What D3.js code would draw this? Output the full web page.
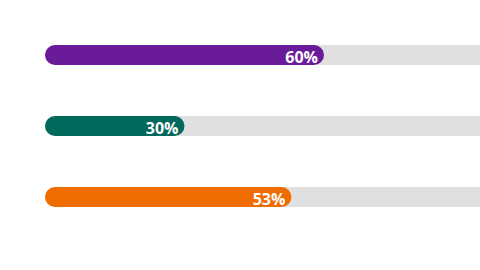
<!DOCTYPE html>
<html><head><meta charset="utf-8">
<script src="https://cdn.jsdelivr.net/npm/d3@7"></script>
<style>html,body{margin:0;padding:0;background:#fff;overflow:hidden}</style>
</head><body>
<svg id="c" width="480" height="270"></svg>
<script>
const categories = ["A", "B", "C"];
const values = [60, 30, 53];
const colors = ["#6a1b9a", "#00695c", "#ef6c00"];
const labels = ["60%", "30%", "53%"];

const svg = d3.select("#c");
const x = d3.scaleLinear().domain([0, 100]).range([45, 510]);
const y = d3.scalePoint().domain(categories).range([55, 197]);
const h = 20;

const g = svg.selectAll("g.bar").data(categories).join("g").attr("class", "bar");
g.append("rect")
  .attr("x", x(0)).attr("y", d => y(d) - h/2)
  .attr("width", x(100) - x(0)).attr("height", h)
  .attr("rx", h/2).attr("fill", "#e0e0e0");
g.append("rect")
  .attr("x", x(0)).attr("y", d => y(d) - h/2)
  .attr("width", (d,i) => x(values[i]) - x(0)).attr("height", h)
  .attr("rx", h/2).attr("fill", (d,i) => colors[i]);
g.append("text")
  .attr("x", (d,i) => x(values[i]) - 6).attr("y", d => y(d) + 8)
  .attr("text-anchor", "end")
  .attr("font-family", "'Open Sans', sans-serif").attr("font-weight", 700)
  .attr("font-size", 16).attr("fill", "#fff")
  .text((d,i) => labels[i]);
</script>
</body></html>
